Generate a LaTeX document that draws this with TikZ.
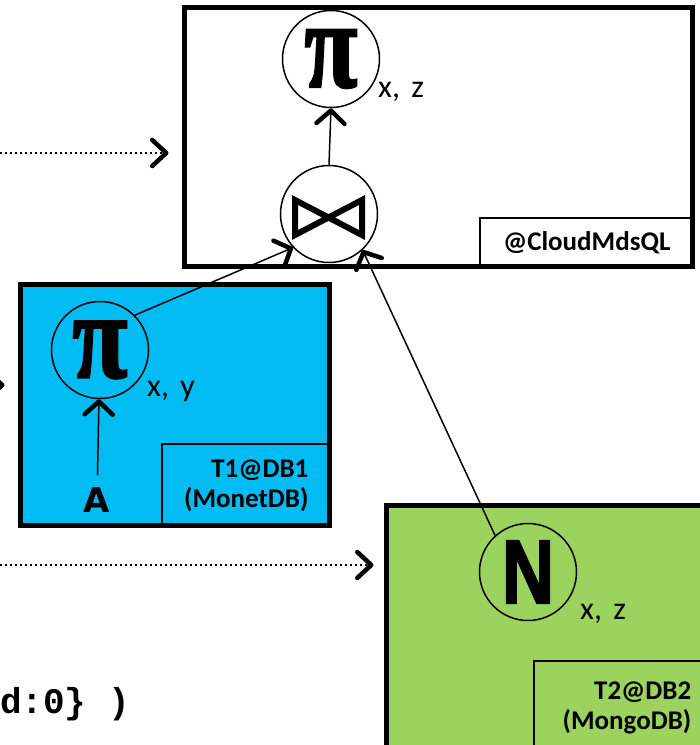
\documentclass[tikz,border=0pt]{standalone}
\usepackage[no-math]{fontspec}
\usepackage{graphicx}
\setmainfont{Carlito}
\newfontfamily\fuenteA{DejaVu Sans}
\newfontfamily\fuenteN[BoldFeatures={FakeBold=2.5}]{Liberation Sans}
\newfontfamily\fuentePi[BoldFeatures={FakeBold=2}]{Liberation Serif}
\newfontfamily\fuenteMono{Liberation Mono}
\usetikzlibrary{arrows.meta}
\definecolor{azulDB}{RGB}{0,188,242}
\definecolor{verdeDB}{RGB}{156,211,94}
\newcommand{\simboloPi}[2]{\resizebox{#1}{#2}{\fuentePi\bfseries π}}

\begin{document}
\begin{tikzpicture}[x=1pt, y=-1pt,
        caja/.style={rectangle, draw, line width=5pt, inner sep=0pt},
        subcaja/.style={rectangle, draw, line width=1.5pt, inner sep=0pt, align=right,
            font=\bfseries\fontsize{27}{30}\selectfont},
        operador/.style={circle, draw, line width=1.5pt, minimum size=97pt, inner sep=0pt},
        etiqueta/.style={font=\fontsize{32}{32}\selectfont, inner sep=0pt, anchor=base west},
        flecha/.style={line width=1.5pt, -{Straight Barb[length=13pt, width=28pt, line width=4.5pt, round]}},
        punteada/.style={line width=2.2pt, dash pattern=on 2pt off 3pt,
            -{Straight Barb[length=14pt, width=26pt, line width=4.5pt, round]}}
    ]
    \useasboundingbox (0,0) rectangle (700,745);

    % Cajas de cada motor
    \node[caja, fill=white, minimum width=508, minimum height=259] (cajaC) at (438,136.5) {};
    \node[caja, fill=azulDB, minimum width=309, minimum height=241] (cajaA) at (174.5,404.5) {};
    \node[caja, fill=verdeDB, minimum width=334, minimum height=265] (cajaN) at (553,637.5) {};

    % Nombres de los subsistemas
    \node[subcaja, minimum width=214, minimum height=50, anchor=south east] (nombreC) at (cajaC.south east) {@CloudMdsQL};
    \node[subcaja, minimum width=169, minimum height=83, anchor=south east] (nombreA) at (cajaA.south east) {T1@DB1\\(MonetDB)};
    \node[subcaja, minimum width=186, minimum height=93] (nombreN) at (627,707.5) {T2@DB2\\(MongoDB)};

    % Operadores
    \node[operador] (proyC) at (331,59) {\simboloPi{53pt}{57pt}};
    \node[etiqueta] (attrC) at (378,97) {x,\hspace{0.35em}z};
    \node[operador] (union) at (329,214) {};
    \draw[line width=6pt, line join=miter]
        ([shift={(-34,-14)}]union.center) -- ([shift={(-34,21)}]union.center)
        -- ([shift={(33,-14)}]union.center) -- ([shift={(33,21)}]union.center) -- cycle;

    \node[operador] (proyA) at (100,350) {\simboloPi{55pt}{56pt}};
    \node[etiqueta] (attrA) at (147,396) {x,\hspace{0.35em}y};
    \node[font=\fuenteA\bfseries\fontsize{34}{34}\selectfont, inner sep=0pt] (tablaA) at (97,500) {A};

    \node[operador] (nest) at (528,572) {\resizebox{52pt}{62pt}{\fuenteN\bfseries N}};
    \node[etiqueta] (attrN) at (580,619) {x,\hspace{0.35em}z};

    % Texto de la consulta (recortado)
    \node[font=\fuenteMono\bfseries\fontsize{36}{36}\selectfont, inner sep=0pt, anchor=base west] (consulta) at (0,713) {d:0\} )};

    % Flujo de datos
    \draw[flecha, shorten <=12pt] (tablaA) -- (proyA);
    \draw[flecha] (proyA.45) -- (union.223);
    \draw[flecha] (nest.132) -- (union.313);
    \draw[flecha] (union.north) -- (proyC.south);

    % Flechas punteadas desde la izquierda
    \coordinate (origen1) at (-20,153);
    \coordinate (origen2) at (-60,385);
    \coordinate (origen3) at (-20,565);
    \draw[punteada, shorten >=13pt] (origen1) -- (cajaC.west |- origen1);
    \draw[punteada, shorten >=13pt] (origen2) -- (cajaA.west |- origen2);
    \draw[punteada, shorten >=10pt] (origen3) -- (cajaN.west |- origen3);
\end{tikzpicture}
\end{document}
